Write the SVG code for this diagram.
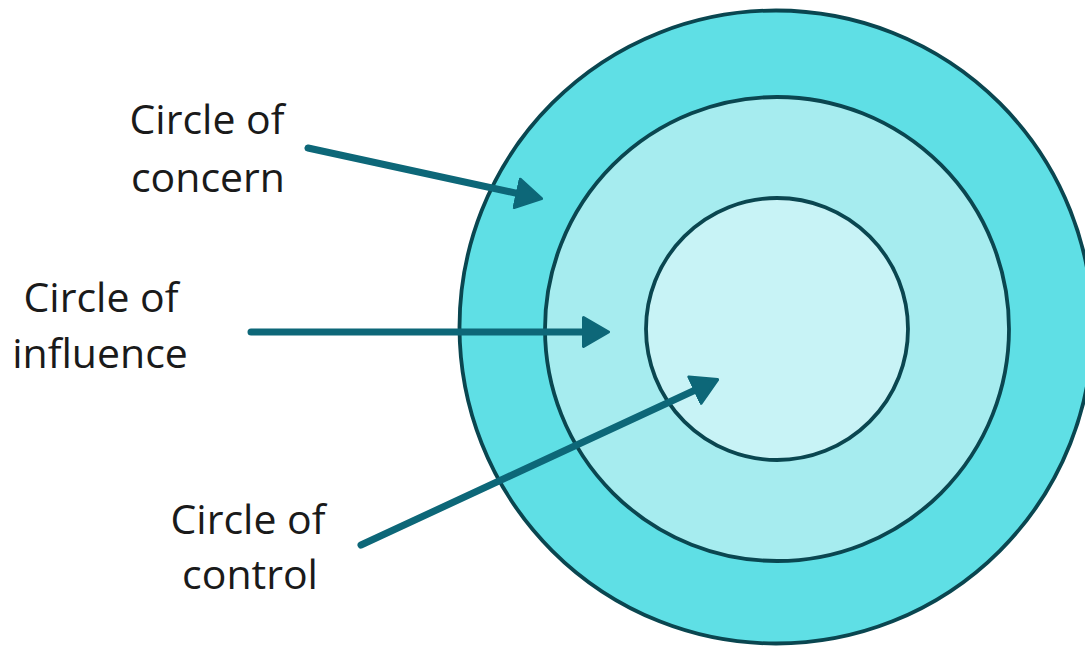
<svg xmlns="http://www.w3.org/2000/svg" width="1085" height="649" viewBox="0 0 1085 649">
<style>
.ring{stroke:#0a4650;stroke-width:3.8}
.lbl{font-family:"Open Sans","Liberation Sans",sans-serif;font-size:41px;fill:#1a1a1a;text-anchor:middle}
.arr{stroke:#0d6778;stroke-width:7;stroke-linecap:round;fill:none;marker-end:url(#head)}
</style>
<defs>
<marker id="head" viewBox="0 0 28 34" refX="12" refY="17" markerWidth="28" markerHeight="34" markerUnits="userSpaceOnUse" orient="auto">
<path d="M1.5,2.5 L26.5,17 L1.5,31.5 Z" fill="#0d6778" stroke="#0d6778" stroke-width="3" stroke-linejoin="round"/>
</marker>
</defs>
<rect width="1085" height="649" fill="#ffffff"/>
<g id="concern"><circle class="ring" cx="776" cy="327" r="316.5" fill="#5fdfe5"/></g>
<g id="influence"><circle class="ring" cx="777" cy="329" r="232" fill="#a6ecef"/></g>
<g id="control"><circle class="ring" cx="777" cy="329" r="131" fill="#c8f3f6"/></g>
<g id="label-concern"><text class="lbl" x="207" y="134">Circle of</text><text class="lbl" x="208" y="192">concern</text></g>
<g id="label-influence"><text class="lbl" x="101" y="312">Circle of</text><text class="lbl" x="100" y="368">influence</text></g>
<g id="label-control"><text class="lbl" x="248" y="534">Circle of</text><text class="lbl" x="250" y="589">control</text></g>
<g id="connectors">
<line class="arr" x1="308" y1="148" x2="527.4" y2="195.6"/>
<line class="arr" x1="251" y1="332" x2="594" y2="332"/>
<line class="arr" x1="361" y1="545" x2="704.5" y2="385.7"/>
</g>
</svg>
